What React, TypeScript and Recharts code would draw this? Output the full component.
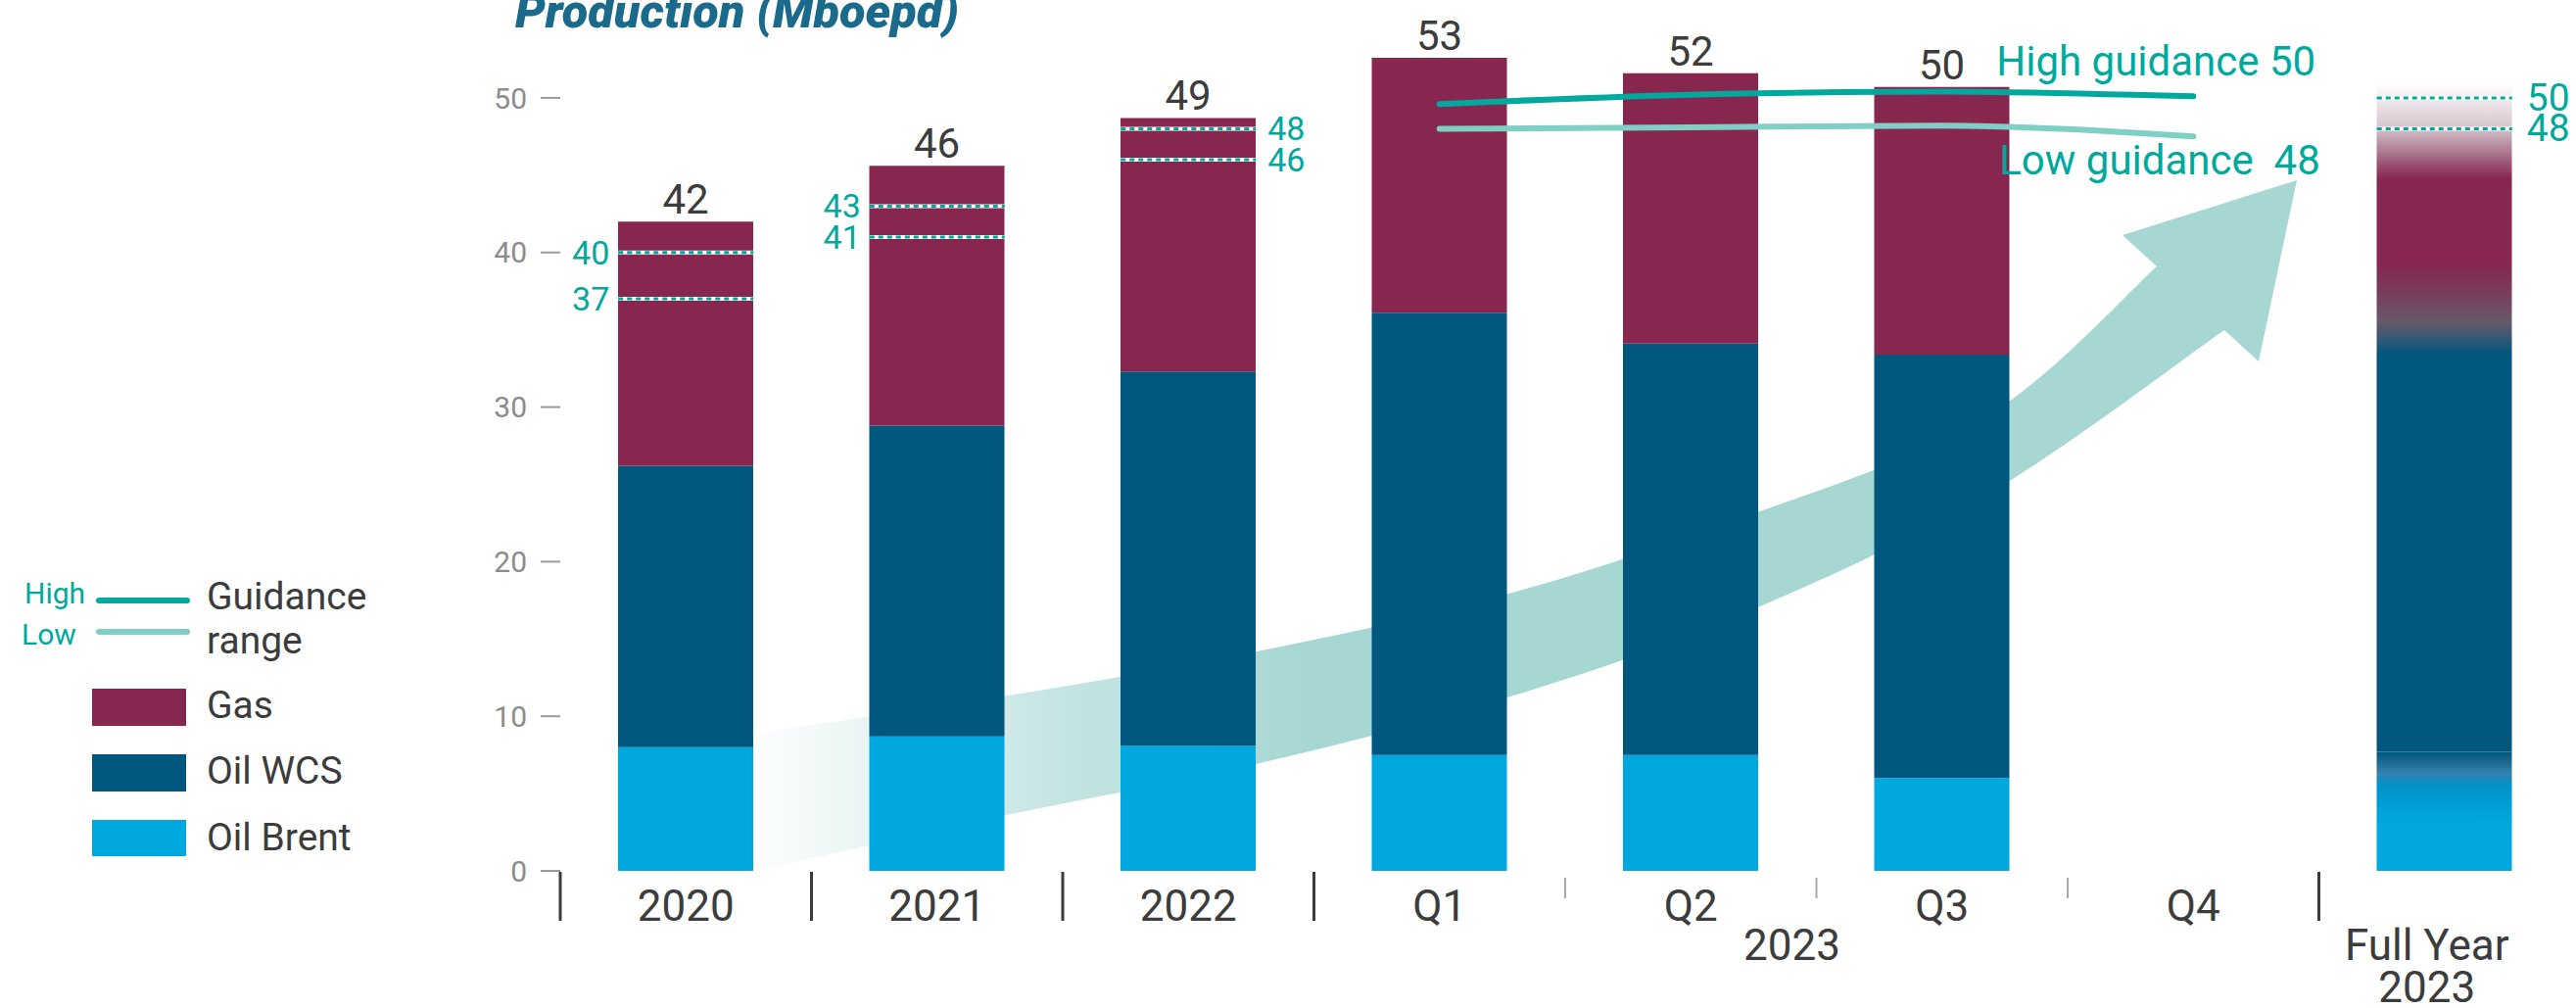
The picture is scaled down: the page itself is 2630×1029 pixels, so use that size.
import React from 'react';
import { ComposedChart, Bar, Line, XAxis, YAxis, Cell, LabelList } from 'recharts';

// Production by segment (Mboepd)
const categories = ['2020', '2021', '2022', 'Q1', 'Q2', 'Q3', 'Q4', 'Full Year 2023'];
const oilBrent = [8.0, 8.7, 8.1, 7.5, 7.5, 6.0, null, 7.7];
const oilWcs = [18.2, 20.1, 24.2, 28.6, 26.6, 27.4, null, 25.7];
const gas = [15.8, 16.8, 16.4, 16.5, 17.5, 17.3, null, 17.5];
const totals = [42, 46, 49, 53, 52, 50, null, null];
// guidance ranges shown as dotted markers on bars
const guideHigh = [40, 43, 48, null, null, null, null, 50];
const guideLow = [37, 41, 46, null, null, null, null, 48];
// 2023 quarterly guidance trend
const highGuidance = [null, null, null, 49.6, 50.2, 50.4, 50.1, null];
const lowGuidance = [null, null, null, 48.0, 48.1, 48.2, 47.5, null];
const yTicks = [0, 10, 20, 30, 40, 50];

const rows = categories.map((cat, i) => ({
  cat,
  brent: oilBrent[i],
  wcs: oilWcs[i],
  gas: gas[i],
  total: totals[i],
  guideHigh: guideHigh[i],
  guideLow: guideLow[i],
  highGuidance: highGuidance[i],
  lowGuidance: lowGuidance[i],
}));

const W = 2630;
const H = 1029;
const PLOT_LEFT = 572;
const PLOT_RIGHT = 2624;
const PLOT_TOP = 21;
const PLOT_BOTTOM = 889;
const BAND = (PLOT_RIGHT - PLOT_LEFT) / categories.length;
const BAR_W = 138;
const FY = categories.length - 1;

const FONT = 'Roboto, "Liberation Sans", sans-serif';
const GAS = '#87264f';
const WCS = '#01577e';
const BRENT = '#00a8e0';
const TEAL = '#00a99d';
const TEAL_LIGHT = '#7fcfc4';
const DARK = '#3c3c3c';
const MINOR_DIVIDERS = ['Q2', 'Q3', 'Q4'];
const LEFT_LABELED = ['2020', '2021'];

// smooth curve through points (catmull-rom -> bezier)
function smooth(pts: number[][]) {
  let d = '';
  for (let i = 0; i < pts.length - 1; i++) {
    const p0 = pts[i - 1] || pts[i];
    const p1 = pts[i];
    const p2 = pts[i + 1];
    const p3 = pts[i + 2] || p2;
    const c1 = [p1[0] + (p2[0] - p0[0]) / 6, p1[1] + (p2[1] - p0[1]) / 6];
    const c2 = [p2[0] - (p3[0] - p1[0]) / 6, p2[1] - (p3[1] - p1[1]) / 6];
    d += ` C${c1[0]},${c1[1]} ${c2[0]},${c2[1]} ${p2[0]},${p2[1]}`;
  }
  return d;
}

// decorative growth arrow behind the bars
const arrowTop = [[760, 750], [1023, 711], [1278, 666], [1526, 610], [1766, 533], [2024, 428], [2202, 272]];
const arrowBottom = [[760, 892], [1023, 833], [1278, 781], [1526, 716], [1766, 632], [2024, 508], [2271, 337]];
const arrowPath =
  `M${arrowTop[0][0]},${arrowTop[0][1]}` +
  smooth(arrowTop) +
  ' L2167,240 L2345,184 L2306,369' +
  ` L${arrowBottom[arrowBottom.length - 1][0]},${arrowBottom[arrowBottom.length - 1][1]}` +
  smooth([...arrowBottom].reverse()) +
  ' Z';

function XTick(props: any) {
  const { x, y, payload } = props;
  const cat = payload.value;
  const left = x - BAND / 2;
  const minor = MINOR_DIVIDERS.includes(cat);
  const isFY = cat === categories[FY];
  return (
    <g>
      <line
        x1={left}
        x2={left}
        y1={minor ? y + 7 : y + 1}
        y2={minor ? y + 28 : y + 51}
        stroke={minor ? '#a8a8a8' : '#3c3c3c'}
        strokeWidth={minor ? 2 : 3}
      />
      {isFY ? (
        <g>
          <text x={x - 18} y={y + 91} textAnchor="middle" fontSize={44} fill={DARK} fontFamily={FONT}>Full Year</text>
          <text x={x - 18} y={y + 134} textAnchor="middle" fontSize={44} fill={DARK} fontFamily={FONT}>2023</text>
        </g>
      ) : (
        <text x={x} y={y + 51} textAnchor="middle" fontSize={44} fill={DARK} fontFamily={FONT}>{cat}</text>
      )}
      {cat === 'Q3' && (
        <text x={left - 25} y={y + 91} textAnchor="middle" fontSize={44} fill={DARK} fontFamily={FONT}>2023</text>
      )}
    </g>
  );
}

function guideDot(props: any) {
  const { cx, cy, payload, value, index } = props;
  if (value == null || cy == null || isNaN(cy)) return <g key={`gd-${index}`} />;
  const onLeft = LEFT_LABELED.includes(payload.cat);
  const isFY = payload.cat === categories[FY];
  return (
    <g key={`gd-${index}`}>
      <line x1={cx - BAR_W / 2} x2={cx + BAR_W / 2} y1={cy} y2={cy} stroke="#ffffff" strokeWidth={4} />
      <line x1={cx - BAR_W / 2} x2={cx + BAR_W / 2} y1={cy} y2={cy} stroke={TEAL} strokeWidth={3} strokeDasharray="5 4" />
      <text
        x={onLeft ? cx - BAR_W / 2 - 9 : cx + BAR_W / 2 + (isFY ? 15 : 12)}
        y={cy + (isFY ? 13 : 12)}
        textAnchor={onLeft ? 'end' : 'start'}
        fontSize={isFY ? 39 : 34}
        fill={TEAL}
        fontFamily={FONT}
      >
        {value}
      </text>
    </g>
  );
}

function totalLabel(props: any) {
  const { x, y, width, value } = props;
  if (value == null) return null;
  return (
    <text x={x + width / 2} y={y - 8} textAnchor="middle" fontSize={42} fill={DARK} fontFamily={FONT}>
      {value}
    </text>
  );
}

function guidanceLabel(text: string, dx: number, dy: number) {
  return (props: any) => {
    const { x, y, index } = props;
    if (index !== 6) return null;
    return (
      <text x={x + dx} y={y + dy} fontSize={42} fill={TEAL} fontFamily={FONT} style={{ whiteSpace: 'pre' }}>
        {text}
      </text>
    );
  };
}

export default function App() {
  return (
    <div style={{ position: 'absolute', left: 0, top: 0, width: W, height: H, background: '#fff', overflow: 'hidden' }}>
      {/* underlay: gradients + arrow */}
      <svg width={W} height={H} style={{ position: 'absolute', left: 0, top: 0 }}>
        <defs>
          <linearGradient id="arrowFade" gradientUnits="userSpaceOnUse" x1="760" y1="0" x2="1330" y2="0">
            <stop offset="0" stopColor="#a7d7d3" stopOpacity={0} />
            <stop offset="0.55" stopColor="#a7d7d3" stopOpacity={0.65} />
            <stop offset="1" stopColor="#a7d7d3" stopOpacity={1} />
          </linearGradient>
          <linearGradient id="fyGas" x1="0" y1="0" x2="0" y2="1">
            <stop offset="0" stopColor="#ffffff" />
            <stop offset="0.05" stopColor="#f1ecef" />
            <stop offset="0.16" stopColor="#d6c4cd" />
            <stop offset="0.26" stopColor="#a8728b" />
            <stop offset="0.35" stopColor={GAS} />
            <stop offset="0.66" stopColor={GAS} />
            <stop offset="0.76" stopColor="#7a3a5a" />
            <stop offset="0.88" stopColor="#68596a" />
            <stop offset="1" stopColor={WCS} />
          </linearGradient>
          <linearGradient id="fyBrent" x1="0" y1="0" x2="0" y2="1">
            <stop offset="0" stopColor={WCS} />
            <stop offset="0.08" stopColor="#1a6890" />
            <stop offset="0.18" stopColor="#3383ad" />
            <stop offset="0.28" stopColor="#0092c8" />
            <stop offset="0.5" stopColor="#00a2da" />
            <stop offset="0.65" stopColor={BRENT} />
            <stop offset="1" stopColor={BRENT} />
          </linearGradient>
        </defs>
        <path d={arrowPath} fill="url(#arrowFade)" />
      </svg>

      <div style={{ position: 'absolute', left: 0, top: 0 }}>
        <ComposedChart
          width={W}
          height={H}
          data={rows}
          margin={{ top: PLOT_TOP, right: W - PLOT_RIGHT, bottom: 0, left: PLOT_LEFT - 80 }}
        >
          <XAxis
            dataKey="cat"
            height={H - PLOT_BOTTOM}
            interval={0}
            axisLine={false}
            tickLine={false}
            tickSize={0}
            tickMargin={0}
            tick={<XTick />}
          />
          <YAxis
            width={80}
            domain={[0, 55]}
            ticks={yTicks}
            axisLine={false}
            tickSize={20}
            tickMargin={14}
            tickLine={{ stroke: '#9a9a9a', strokeWidth: 2 }}
            tick={{ fill: '#8c8c8c', fontSize: 30, fontFamily: FONT }}
          />
          <Bar dataKey="brent" stackId="a" barSize={BAR_W} fill={BRENT} isAnimationActive={false}>
            {rows.map((r, i) => (
              <Cell key={`b-${i}`} fill={i === FY ? 'url(#fyBrent)' : BRENT} />
            ))}
          </Bar>
          <Bar dataKey="wcs" stackId="a" barSize={BAR_W} fill={WCS} isAnimationActive={false} />
          <Bar dataKey="gas" stackId="a" barSize={BAR_W} fill={GAS} isAnimationActive={false}>
            {rows.map((r, i) => (
              <Cell key={`g-${i}`} fill={i === FY ? 'url(#fyGas)' : GAS} />
            ))}
            <LabelList dataKey="total" content={totalLabel} />
          </Bar>
          <Line
            dataKey="highGuidance"
            type="monotone"
            stroke={TEAL}
            strokeWidth={6}
            strokeLinecap="round"
            dot={false}
            activeDot={false}
            isAnimationActive={false}
          >
            <LabelList dataKey="highGuidance" content={guidanceLabel(`High guidance ${guideHigh[FY]}`, -201, -21)} />
          </Line>
          <Line
            dataKey="lowGuidance"
            type="monotone"
            stroke={TEAL_LIGHT}
            strokeWidth={6}
            strokeLinecap="round"
            dot={false}
            activeDot={false}
            isAnimationActive={false}
          >
            <LabelList dataKey="lowGuidance" content={guidanceLabel(`Low guidance  ${guideLow[FY]}`, -198, 39)} />
          </Line>
          <Line dataKey="guideHigh" stroke="none" dot={guideDot} activeDot={false} isAnimationActive={false} />
          <Line dataKey="guideLow" stroke="none" dot={guideDot} activeDot={false} isAnimationActive={false} />
        </ComposedChart>
      </div>

      {/* overlay: title + legend */}
      <svg width={W} height={H} style={{ position: 'absolute', left: 0, top: 0, pointerEvents: 'none' }}>
        <text
          x={526}
          y={28}
          fontSize={48}
          fontWeight={900}
          fontStyle="italic"
          fill="#1a6a8c"
          fontFamily={FONT}
          textLength={453}
          lengthAdjust="spacingAndGlyphs"
        >
          Production (Mboepd)
        </text>
        <text x={25} y={616} fontSize={30} fill={TEAL} fontFamily={FONT}>High</text>
        <line x1={101} x2={191} y1={613} y2={613} stroke={TEAL} strokeWidth={6} strokeLinecap="round" />
        <text x={22} y={658} fontSize={30} fill={TEAL} fontFamily={FONT}>Low</text>
        <line x1={101} x2={191} y1={645} y2={645} stroke={TEAL_LIGHT} strokeWidth={6} strokeLinecap="round" />
        <text x={211} y={622} fontSize={39} fill={DARK} fontFamily={FONT}>Guidance</text>
        <text x={211} y={667} fontSize={39} fill={DARK} fontFamily={FONT}>range</text>
        <rect x={94} y={703} width={96} height={38} fill={GAS} />
        <text x={211} y={733} fontSize={39} fill={DARK} fontFamily={FONT}>Gas</text>
        <rect x={94} y={770} width={96} height={38} fill={WCS} />
        <text x={211} y={800} fontSize={39} fill={DARK} fontFamily={FONT}>Oil WCS</text>
        <rect x={94} y={837} width={96} height={37} fill={BRENT} />
        <text x={211} y={868} fontSize={39} fill={DARK} fontFamily={FONT}>Oil Brent</text>
      </svg>
    </div>
  );
}
